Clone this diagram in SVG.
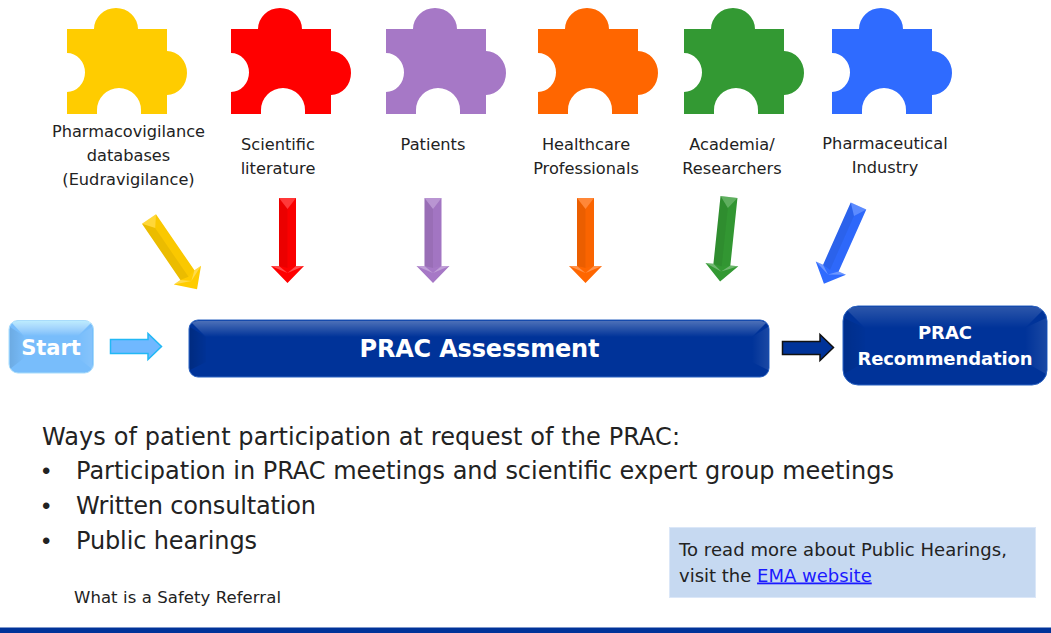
<svg xmlns="http://www.w3.org/2000/svg" xmlns:xlink="http://www.w3.org/1999/xlink" width="1051" height="633" viewBox="0 0 1051 633">
<style>
text{font-family:"DejaVu Sans",Verdana,sans-serif;fill:#222}
.lbl{font-size:16.200px;text-anchor:middle}
.big{font-size:24px}
.bul{font-family:"Liberation Sans",Arial,sans-serif;font-size:24px}
.box{font-weight:bold;fill:#fff;text-anchor:middle}
.d1{fill:#000;opacity:.08}
.d2{fill:#000;opacity:.02}
.l1{fill:#fff;opacity:.22}
.l2{fill:#fff;opacity:.3}
</style>
<defs>
<path id="piece" d="M0 21H27A22 21 0 0 1 71 21H100V43A20 22 0 0 1 100 87V106H74V102A22 22 0 0 0 30 102V106H0V84A18 19.500 0 0 0 0 45Z"/>
<g id="arrow">
<path fill="currentColor" d="M-8.500 0H8.500V68H16.500L0 85L-16.500 68H-8.500Z"/>
<path class="l1" d="M-8.500 0H8.500L0 11Z"/>
<path class="d1" d="M-8.500 0L0 11V70L-8.500 68Z"/>
<path class="d2" d="M8.500 0L0 11V70L8.500 68Z"/>
<path class="l2" d="M-16.500 68H-8.500L0 75Z"/>
<path class="l2" d="M16.500 68H8.500L0 75Z"/>
</g>
<linearGradient id="gTop" x1="0" y1="0" x2="0" y2="1"><stop offset="0" stop-color="#fff" stop-opacity=".3"/><stop offset="1" stop-color="#fff" stop-opacity="0"/></linearGradient>
<linearGradient id="gTopS" x1="0" y1="0" x2="0" y2="1"><stop offset="0" stop-color="#fff" stop-opacity=".17"/><stop offset="1" stop-color="#fff" stop-opacity="0"/></linearGradient>
<linearGradient id="gTopL" x1="0" y1="0" x2="0" y2="1"><stop offset="0" stop-color="#d8ffff" stop-opacity=".7"/><stop offset="1" stop-color="#fff" stop-opacity="0"/></linearGradient>
<linearGradient id="gLeft" x1="0" y1="0" x2="1" y2="0"><stop offset="0" stop-color="#000" stop-opacity=".16"/><stop offset="1" stop-color="#000" stop-opacity=".02"/></linearGradient>
<linearGradient id="gRight" x1="0" y1="0" x2="1" y2="0"><stop offset="0" stop-color="#fff" stop-opacity="0"/><stop offset="1" stop-color="#fff" stop-opacity=".1"/></linearGradient>
</defs>
<rect width="1051" height="633" fill="#fff"/>
<g id="connectors">
<use id="arrow-yellow" xlink:href="#arrow" href="#arrow" color="#ffcc00" transform="translate(149 219) rotate(-34.400)"/>
<use id="arrow-red" xlink:href="#arrow" href="#arrow" color="#ff0000" transform="translate(287.500 198)"/>
<use id="arrow-purple" xlink:href="#arrow" href="#arrow" color="#a678c6" transform="translate(433 198)"/>
<use id="arrow-orange" xlink:href="#arrow" href="#arrow" color="#ff6600" transform="translate(585.500 198)"/>
<use id="arrow-green" xlink:href="#arrow" href="#arrow" color="#339933" transform="translate(729 197) rotate(6)"/>
<use id="arrow-blue" xlink:href="#arrow" href="#arrow" color="#2f6bff" transform="translate(858.500 206) rotate(24)"/>
<path id="arrow-start" d="M110.500 339.500H148V333.500L161.500 346.500L148 359.500V353.500H110.500Z" fill="#70b8ff" stroke="#22b8f5" stroke-width="1.500"/>
<path id="arrow-prac" d="M782.500 341.500H820V334.500L833.500 347.500L820 360.500V354.500H782.500Z" fill="#003399" stroke="#111" stroke-width="1.500"/>
</g>
<g id="node-pharmacovigilance">
<use xlink:href="#piece" href="#piece" x="67" y="8" fill="#ffcc00"/>
<text class="lbl" x="128.500" y="137">Pharmacovigilance</text>
<text class="lbl" x="128.500" y="161">databases</text>
<text class="lbl" x="128.500" y="185">(Eudravigilance)</text>
</g>
<g id="node-literature">
<use xlink:href="#piece" href="#piece" x="231" y="8" fill="#ff0000"/>
<text class="lbl" x="278" y="150">Scientific</text>
<text class="lbl" x="278" y="174">literature</text>
</g>
<g id="node-patients">
<use xlink:href="#piece" href="#piece" x="386" y="8" fill="#a678c6"/>
<text class="lbl" x="433" y="150">Patients</text>
</g>
<g id="node-healthcare">
<use xlink:href="#piece" href="#piece" x="538" y="8" fill="#ff6600"/>
<text class="lbl" x="586" y="150">Healthcare</text>
<text class="lbl" x="586" y="174">Professionals</text>
</g>
<g id="node-academia">
<use xlink:href="#piece" href="#piece" x="684" y="8" fill="#339933"/>
<text class="lbl" x="732" y="150">Academia/</text>
<text class="lbl" x="732" y="174">Researchers</text>
</g>
<g id="node-industry">
<use xlink:href="#piece" href="#piece" x="832" y="8" fill="#2f6bff"/>
<text class="lbl" x="885" y="149">Pharmaceutical</text>
<text class="lbl" x="885" y="173">Industry</text>
</g>
<g id="node-start">
<rect x="9" y="320.500" width="84.500" height="52.500" rx="9" fill="#78bdfb" stroke="#a8dcfb"/>
<path d="M12 323Q14 321 18 321H85Q89 321 91 323L78 336H24Z" fill="url(#gTopL)"/>
<path d="M10 327L24 336V358L10 369Z" fill="url(#gLeft)" opacity=".6"/>
<path d="M92 327L78 336V358L92 369Z" fill="url(#gRight)"/>
<text class="box" x="51" y="355" font-size="21">Start</text>
</g>
<g id="node-assessment">
<rect x="189" y="320" width="580" height="57" rx="9" fill="#003399" stroke="#2a62c0"/>
<path d="M192 323Q194 321 198 321H760Q764 321 766 323L752 337H206Z" fill="url(#gTop)"/>
<path d="M190 327L206 337V362L190 370Z" fill="url(#gLeft)"/>
<path d="M768 327L752 337V362L768 370Z" fill="url(#gRight)"/>
<text class="box" x="479.500" y="357" font-size="24" textLength="240">PRAC Assessment</text>
</g>
<g id="node-recommendation">
<rect x="843" y="306" width="204" height="79" rx="15" fill="#003399" stroke="#2a62c0"/>
<path d="M847 310Q850 307 858 307H1032Q1040 307 1043 310L1025 328H865Z" fill="url(#gTopS)"/>
<path d="M844 318L865 328V362L844 374Z" fill="url(#gLeft)" opacity=".6"/>
<path d="M1046 318L1025 328V362L1046 374Z" fill="url(#gRight)"/>
<text class="box" x="945" y="339" font-size="18">PRAC</text>
<text class="box" x="945" y="365" font-size="18" textLength="175">Recommendation</text>
</g>
<g id="body-text">
<text class="big" x="42" y="445" textLength="638">Ways of patient participation at request of the PRAC:</text>
<text class="bul" x="42" y="479">•</text>
<text class="big" x="76" y="479" textLength="818">Participation in PRAC meetings and scientific expert group meetings</text>
<text class="bul" x="42" y="514">•</text>
<text class="big" x="76" y="514" textLength="240">Written consultation</text>
<text class="bul" x="42" y="549">•</text>
<text class="big" x="76" y="549" textLength="181">Public hearings</text>
<text x="74" y="603" font-size="16.500" textLength="207">What is a Safety Referral</text>
</g>
<g id="note">
<rect x="669.500" y="527.500" width="366" height="70" fill="#c6d9f1" stroke="#dbe7f8"/>
<text x="679" y="555.500" font-size="18" textLength="328">To read more about Public Hearings,</text>
<text x="679" y="581.500" font-size="18">visit the <tspan fill="#1a1aff" text-decoration="underline">EMA website</tspan></text>
</g>
<rect id="footer-band" x="0" y="627.500" width="1051" height="5.500" fill="#003399"/>
</svg>
